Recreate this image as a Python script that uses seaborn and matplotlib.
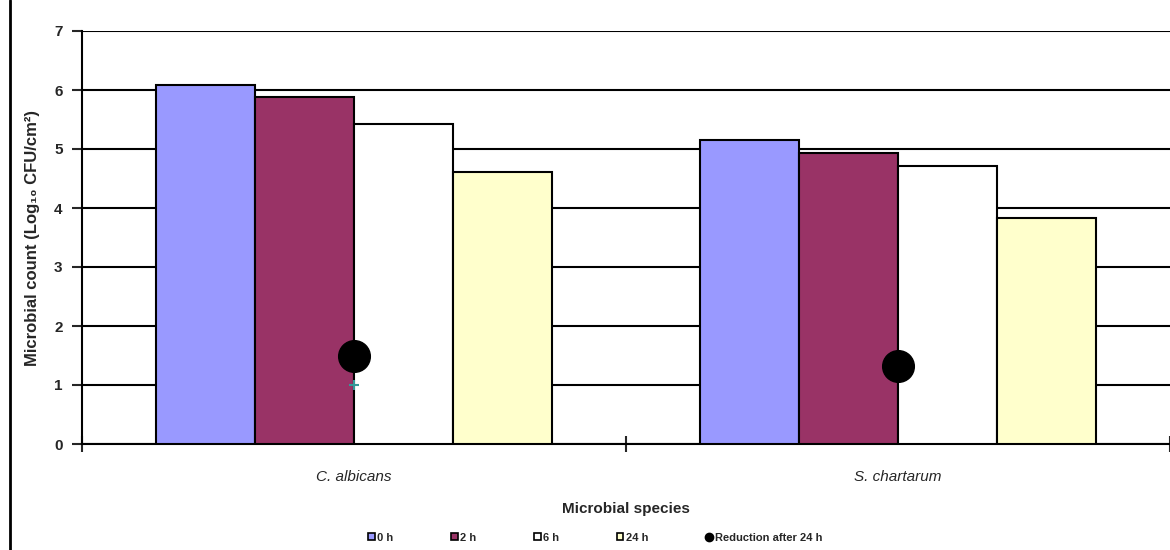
import matplotlib
matplotlib.use("Agg")
import matplotlib.pyplot as plt
from matplotlib.lines import Line2D
from matplotlib.patches import Patch
import numpy as np
import seaborn as sns
import pandas as pd

species = ["C. albicans", "S. chartarum"]
times = ["0 h", "2 h", "6 h", "24 h"]
count_0h = [6.08, 5.15]
count_2h = [5.88, 4.93]
count_6h = [5.43, 4.71]
count_24h = [4.61, 3.83]
reduction = [1.50, 1.32]
colors = ["#9999FF", "#993366", "#FFFFFF", "#FFFFCC"]

df = pd.DataFrame({
    "species": species * 4,
    "time": [t for t in times for _ in species],
    "count": count_0h + count_2h + count_6h + count_24h,
})

sns.set_theme(style="white")
plt.rcParams["font.family"] = ["Liberation Sans", "DejaVu Sans"]

fig = plt.figure(figsize=(11.7, 5.5), dpi=100)
ax = fig.add_axes([82 / 1170, 1 - 444 / 550, (1170 - 82) / 1170, (444 - 31) / 550])

sns.barplot(data=df, x="species", y="count", hue="time", hue_order=times,
            palette=colors, width=0.728, gap=0, edgecolor="black", linewidth=1.5,
            saturation=1, legend=False, ax=ax, zorder=3)

# reduction after 24 h drawn at the group centres
ax.scatter(range(len(species)), reduction, s=520, color="black", zorder=5)
ax.plot([0], [1.0], marker="+", color="#339999", markersize=7, mew=1.5, zorder=6)

ax.set_ylim(0, 7)
ax.set_xlim(-0.5, 1.5)
ax.set_yticks(range(8))
ax.yaxis.grid(True, color="black", linewidth=1.5, zorder=0)
ax.set_axisbelow(True)
for s in ["top", "right"]:
    ax.spines[s].set_visible(False)
for s in ["left", "bottom"]:
    ax.spines[s].set_color("black")
    ax.spines[s].set_linewidth(1.5)

ax.tick_params(axis="y", left=True, length=7, width=1.5, labelsize=11, pad=7)
ax.set_xticks([0, 1])
ax.set_xticklabels(species, style="italic", fontsize=11)
ax.set_xticks([-0.5, 0.5, 1.5], minor=True)
ax.tick_params(axis="x", which="major", bottom=False, pad=13)
ax.tick_params(axis="x", which="minor", bottom=True, direction="inout", length=12, width=1.5)
for lab in ax.get_yticklabels():
    lab.set_fontweight("bold")

ax.set_xlabel("Microbial species", fontsize=11, fontweight="bold", labelpad=13)
ax.set_ylabel("Microbial count (Log\u2081\u2080 CFU/cm\u00b2)", fontsize=12,
              fontweight="bold", labelpad=10)

handles = [Patch(facecolor=c, edgecolor="black", linewidth=1.2) for c in colors]
handles.append(Line2D([], [], marker="o", color="black", linestyle="none", markersize=6))
labels = times + ["Reduction after 24 h"]
fig.legend(handles, labels, loc="lower left", bbox_to_anchor=(358 / 1170, -0.005),
           ncol=5, frameon=False, handlelength=0.6, handleheight=0.6,
           handletextpad=0.2, columnspacing=5.2, prop={"weight": "bold", "size": 8})

fig.add_artist(Line2D([10 / 1170, 10 / 1170], [0, 1], color="black", linewidth=2,
                      transform=fig.transFigure))

fig.savefig("out.png", dpi=100)
